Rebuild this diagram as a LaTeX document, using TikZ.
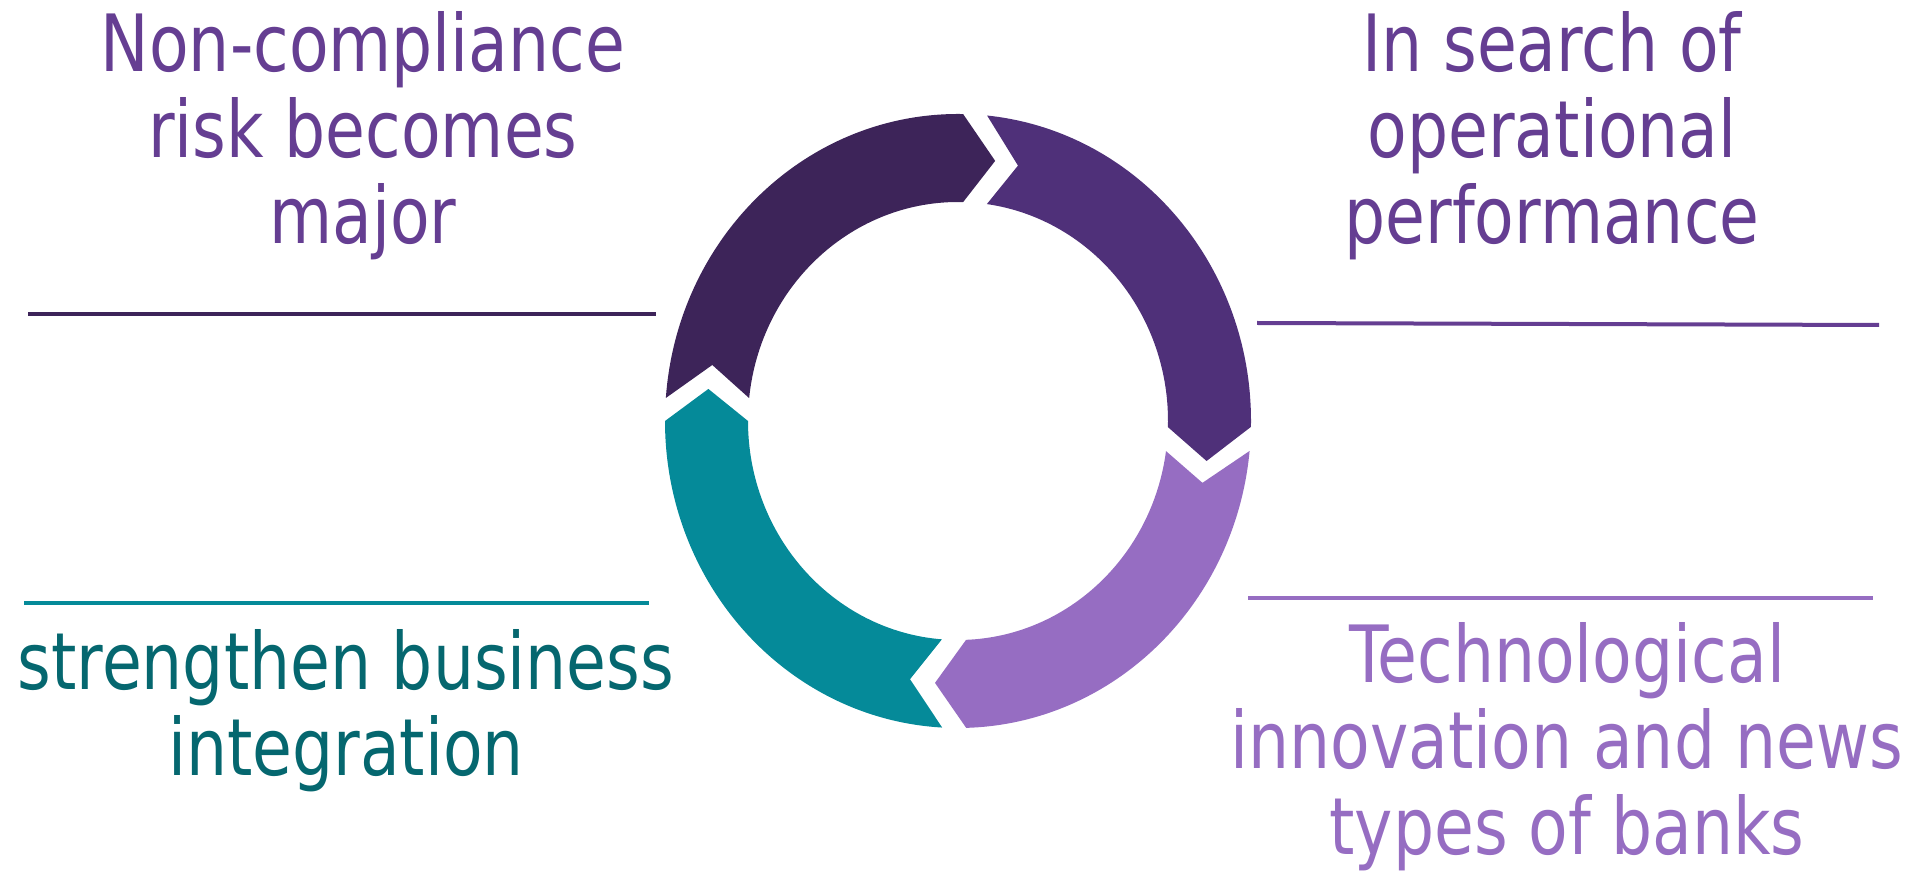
\documentclass[tikz,border=0pt]{standalone}
\usepackage{fontspec}
\setmainfont{DejaVu Sans}[FakeStretch=0.82]
\definecolor{ringdark}{HTML}{3D2459}
\definecolor{ringpurple}{HTML}{4F3079}
\definecolor{ringlilac}{HTML}{966DC2}
\definecolor{ringteal}{HTML}{058A99}
\definecolor{textpurple}{HTML}{653E92}
\definecolor{textteal}{HTML}{05676F}
\begin{document}
\begin{tikzpicture}[x=1pt, y=1pt,
		label/.style={font=\fontsize{79}{86}\selectfont, align=center, inner sep=0pt, anchor=base},
		rule/.style={line width=4pt}]
		\useasboundingbox (0, 0) rectangle (1913, 876);
		% ring of four arrows
		\begin{scope}[shift={(958, 455)}]
		\foreach \col/\os/\oe/\tp/\ie/\is/\nt in {ringdark/175.7/89.0/81.5/88.6/174.0/167.7, ringpurple/84.3/-1.1/-8.75/-1.6/82.1/76.2, ringlilac/-5.6/-88.4/-95.25/-87.8/-7.9/-13.6, ringteal/-93.1/-180/-187/-180/-94.4/-101}
			\fill[\col] (\os:293pt and 307pt) arc[start angle=\os, end angle=\oe, x radius=293pt, y radius=307pt]
				-- (\tp:251.5pt and 263pt) -- (\ie:210pt and 219pt)
				arc[start angle=\ie, end angle=\is, x radius=210pt, y radius=219pt]
				-- (\nt:251.5pt and 263pt) -- cycle;
		\end{scope}
		% rules
		\draw[rule, ringdark] (28, 562) -- (656, 562);
		\draw[rule, textpurple] (1257, 553) -- (1879, 551);
		\draw[rule, ringteal] (24, 273) -- (649, 273);
		\draw[rule, ringlilac] (1248, 278) -- (1873, 278);
		% labels (base = last line)
		\node[label, textpurple] (risk) at (363, 632) {Non-compliance\\risk becomes\\major};
		\node[label, textpurple] (perf) at (1552, 632) {In search of\\operational\\performance};
		\node[label, textteal] (integ) at (346, 101) {strengthen business\\integration};
		\node[label, ringlilac] (tech) at (1567, 22) {Technological\\innovation and news\\types of banks};
	\end{tikzpicture}
\end{document}
